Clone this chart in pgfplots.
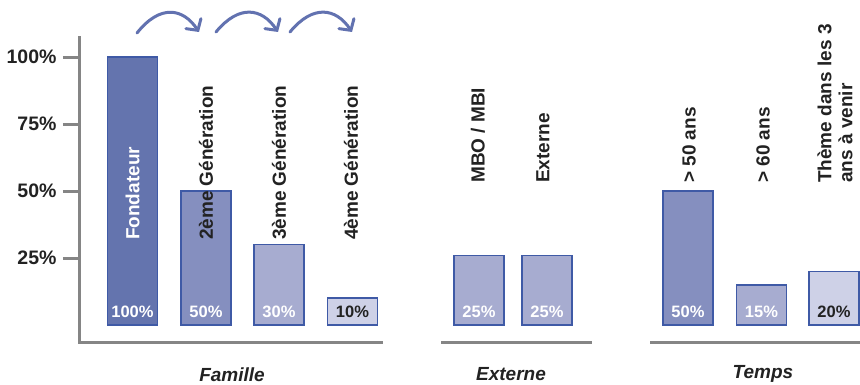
\documentclass[border=0pt]{standalone}
\usepackage{fontspec}
\setmainfont{Liberation Sans}
\usepackage{pgfplots}
\pgfplotsset{compat=1.18}
\usetikzlibrary{arrows.meta}
\definecolor{cA}{HTML}{6474AE}
\definecolor{cB}{HTML}{858FBF}
\definecolor{cC}{HTML}{A7ACD0}
\definecolor{cD}{HTML}{CED1E7}
\definecolor{edge}{HTML}{3F5AA6}
\definecolor{arr}{HTML}{6272B0}
\definecolor{ax}{HTML}{858585}
\definecolor{txt}{HTML}{222222}
\newcommand\bigf{\bfseries\fontsize{19}{21}\selectfont}
\newcommand\tickf{\bfseries\fontsize{19.5}{21}\selectfont}
\newcommand\valf{\bfseries\fontsize{16.5}{18}\selectfont}
\begin{document}
\begin{tikzpicture}
\useasboundingbox (-80pt,-42pt) rectangle (780pt,343pt);
\begin{axis}[
  at={(0,0)}, anchor=south west,
  scale only axis, width=780pt, height=307.4pt,
  xmin=80, xmax=860, ymin=-6.7, ymax=108,
  axis x line=none, axis y line*=left,
  y axis line style={line width=3pt, draw=ax},
  ytick={25,50,75,100}, yticklabels={25\%,50\%,75\%,100\%},
  yticklabel style={font=\tickf, text=txt, xshift=-3pt},
  tick align=outside, major tick length=17pt,
  ytick style={line width=3pt, draw=ax},
  clip=false,
  ybar, bar width=50, bar shift=0pt,
  every axis plot/.append style={draw=edge, line width=1.5pt},
]
% Famille
\addplot[fill=cA] coordinates {(132.5,100)};
\addplot[fill=cB] coordinates {(206,50)};
\addplot[fill=cC] coordinates {(279,30)};
\addplot[fill=cD] coordinates {(352.5,10)};
% Externe
\addplot[fill=cC] coordinates {(479,26)};
\addplot[fill=cC] coordinates {(547,26)};
% Temps
\addplot[fill=cB] coordinates {(688,50)};
\addplot[fill=cC] coordinates {(761.5,15)};
\addplot[fill=cD] coordinates {(834,20)};

% baselines
\draw[ax, line width=3pt] (axis cs:78.5,-6.7) -- (axis cs:383,-6.7);
\draw[ax, line width=3pt] (axis cs:441,-6.7) -- (axis cs:592,-6.7);
\draw[ax, line width=3pt] (axis cs:650,-6.7) -- (axis cs:860,-6.7);

% value labels
\node[font=\valf, text=white] at (axis cs:132.5,4.8) {100\%};
\node[font=\valf, text=white] at (axis cs:206,4.8) {50\%};
\node[font=\valf, text=white] at (axis cs:279,4.8) {30\%};
\node[font=\valf, text=txt] at (axis cs:352.5,4.8) {10\%};
\node[font=\valf, text=white] at (axis cs:479,4.8) {25\%};
\node[font=\valf, text=white] at (axis cs:547,4.8) {25\%};
\node[font=\valf, text=white] at (axis cs:688,4.8) {50\%};
\node[font=\valf, text=white] at (axis cs:761.5,4.8) {15\%};
\node[font=\valf, text=txt] at (axis cs:834,4.8) {20\%};

% category labels
\node[font=\bigf, text=white, rotate=90, anchor=west, inner sep=0pt] at (axis cs:132.5,31.7) {Fondateur};
\node[font=\bigf, text=txt, rotate=90, anchor=west, inner sep=0pt] at (axis cs:206,31.7) {2ème Génération};
\node[font=\bigf, text=txt, rotate=90, anchor=west, inner sep=0pt] at (axis cs:279,31.7) {3ème Génération};
\node[font=\bigf, text=txt, rotate=90, anchor=west, inner sep=0pt] at (axis cs:351,31.7) {4ème Génération};
\node[font=\bigf, text=txt, rotate=90, anchor=west, inner sep=0pt] at (axis cs:478,53) {MBO / MBI};
\node[font=\bigf, text=txt, rotate=90, anchor=west, inner sep=0pt] at (axis cs:543,53) {Externe};
\node[font=\bigf, text=txt, rotate=90, anchor=west, inner sep=0pt] at (axis cs:689,53) {> 50 ans};
\node[font=\bigf, text=txt, rotate=90, anchor=west, inner sep=0pt] at (axis cs:763,53) {> 60 ans};
\node[font=\bigf, text=txt, rotate=90, anchor=west, inner sep=0pt, align=left] at (axis cs:835,53) {Thème dans les 3\\ans à venir};

% group labels
\node[font=\bigf\itshape, text=txt, inner sep=0pt] at (axis cs:232,-18.4) {Famille};
\node[font=\bigf\itshape, text=txt, inner sep=0pt] at (axis cs:511,-18.4) {Externe};
\node[font=\bigf\itshape, text=txt, inner sep=0pt] at (axis cs:763,-18.4) {Temps};
\end{axis}
\begin{scope}[shift={(-80pt,343pt)}, x=1pt, y=-1pt]
\draw[arr, line width=3pt, line cap=round, -{Straight Barb[length=8pt, width=18pt, line cap=round]}] (137,33) .. controls (160,4) and (183,8) .. (199,32);
\draw[arr, line width=3pt, line cap=round, -{Straight Barb[length=8pt, width=18pt, line cap=round]}] (216,32) .. controls (239,4) and (262,8) .. (278,32);
\draw[arr, line width=3pt, line cap=round, -{Straight Barb[length=8pt, width=18pt, line cap=round]}] (290,32) .. controls (313,4) and (336,8) .. (352,32);
\end{scope}
\end{tikzpicture}
\end{document}
